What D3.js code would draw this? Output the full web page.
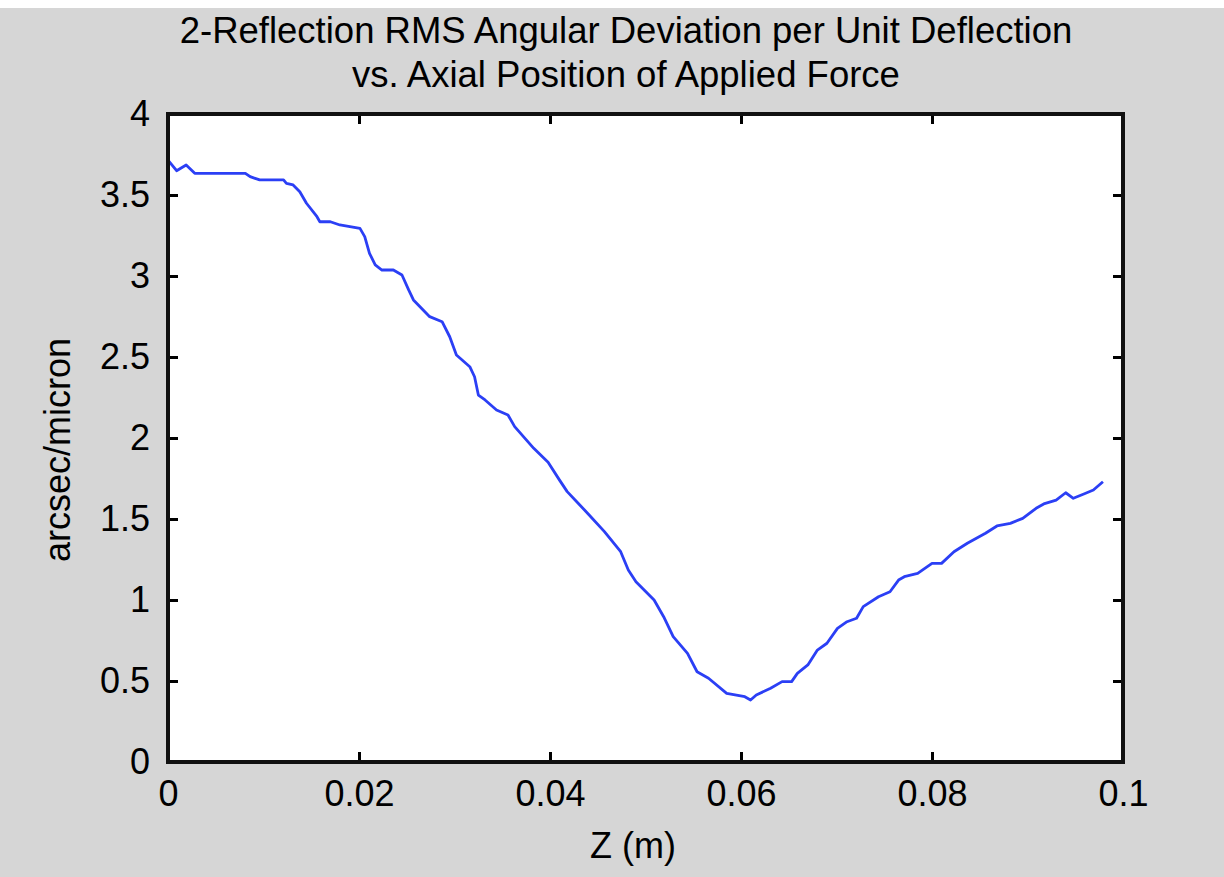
<!DOCTYPE html>
<html>
<head>
<meta charset="utf-8">
<script src="https://cdn.jsdelivr.net/npm/d3@7"></script>
<style>
  body { margin: 0; background: #d6d6d6; }
  svg { display: block; }
  text { font-family: "Liberation Sans", Arial, sans-serif; fill: #000; }
</style>
</head>
<body>
<svg width="1224" height="877"></svg>
<script>
// values
var zVals = [0, 0.0009, 0.0019, 0.0028, 0.0081, 0.0086, 0.0096, 0.0121, 0.0124, 0.0131,
  0.0138, 0.0145, 0.0156, 0.0159, 0.0170, 0.0180, 0.0201, 0.0206, 0.0211, 0.0217,
  0.0224, 0.0236, 0.0245, 0.0252, 0.0257, 0.0274, 0.0287, 0.0295, 0.0302, 0.0316,
  0.0321, 0.0325, 0.0332, 0.0344, 0.0356, 0.0363, 0.0383, 0.0398, 0.0410, 0.0418,
  0.0428, 0.0441, 0.0457, 0.0474, 0.0482, 0.0490, 0.0509, 0.0519, 0.0529, 0.0544,
  0.0554, 0.0566, 0.0585, 0.0604, 0.0610, 0.0616, 0.0631, 0.0643, 0.0653, 0.0659,
  0.0670, 0.0680, 0.0690, 0.0701, 0.0711, 0.0721, 0.0728, 0.0744, 0.0756, 0.0765,
  0.0771, 0.0785, 0.0800, 0.0810, 0.0823, 0.0837, 0.0856, 0.0868, 0.0882, 0.0895,
  0.0909, 0.0917, 0.0930, 0.0940, 0.0948, 0.0959, 0.0969, 0.0979];

var devVals = [3.716, 3.65, 3.685, 3.634, 3.634, 3.613, 3.593, 3.593, 3.572, 3.562,
  3.52, 3.449, 3.366, 3.335, 3.335, 3.315, 3.294, 3.243, 3.14, 3.068,
  3.037, 3.037, 3.006, 2.914, 2.852, 2.749, 2.718, 2.625, 2.512, 2.44,
  2.378, 2.265, 2.235, 2.173, 2.142, 2.07, 1.936, 1.85, 1.74, 1.669,
  1.607, 1.525, 1.422, 1.298, 1.185, 1.113, 1.0, 0.897, 0.774, 0.671,
  0.557, 0.517, 0.424, 0.403, 0.383, 0.414, 0.455, 0.496, 0.496, 0.547,
  0.599, 0.691, 0.733, 0.825, 0.866, 0.887, 0.959, 1.02, 1.051, 1.123,
  1.144, 1.164, 1.226, 1.226, 1.298, 1.35, 1.412, 1.457, 1.473, 1.504,
  1.566, 1.593, 1.617, 1.662, 1.628, 1.654, 1.679, 1.73];

var xTicks = [0, 0.02, 0.04, 0.06, 0.08, 0.1];
var xTickLabels = ["0", "0.02", "0.04", "0.06", "0.08", "0.1"];
var yTicks = [0, 0.5, 1, 1.5, 2, 2.5, 3, 3.5, 4];
var yTickLabels = ["0", "0.5", "1", "1.5", "2", "2.5", "3", "3.5", "4"];

var titleLines = ["2-Reflection RMS Angular Deviation per Unit Deflection",
                  "vs. Axial Position of Applied Force"];

var svg = d3.select("svg"),
    margin = {top: 114, right: 101, bottom: 115, left: 168},
    width = +svg.attr("width") - margin.left - margin.right,
    height = +svg.attr("height") - margin.top - margin.bottom;

// thin white strip along the top edge
svg.append("rect").attr("width", 1224).attr("height", 8).attr("fill", "#fff");

var g = svg.append("g").attr("transform", "translate(" + margin.left + "," + margin.top + ")");

var x = d3.scaleLinear().domain([0, 0.1]).range([0, width]);
var y = d3.scaleLinear().domain([0, 4]).range([height, 0]);

g.append("rect")
    .attr("width", width)
    .attr("height", height)
    .attr("fill", "#fff");

var data = zVals.map(function(d, i) { return {z: d, v: devVals[i]}; });

var line = d3.line()
    .x(function(d) { return x(d.z); })
    .y(function(d) { return y(d.v); });

g.append("path")
    .datum(data)
    .attr("fill", "none")
    .attr("stroke", "#2b3ff5")
    .attr("stroke-width", 2.8)
    .attr("stroke-linejoin", "round")
    .attr("d", line);

// axes: ticks point inward on all four sides, matlab style
function styleAxis(sel) {
  sel.select(".domain").remove();
  sel.selectAll(".tick line").attr("stroke", "#000").attr("stroke-width", 3);
  sel.selectAll(".tick text").attr("font-size", 36).attr("fill", "#000")
     .attr("font-family", "'Liberation Sans', Arial, sans-serif");
}

var fmtX = function(d, i) { return xTickLabels[i]; };
var fmtY = function(d, i) { return yTickLabels[i]; };

g.append("g")
    .attr("transform", "translate(0," + height + ")")
    .call(d3.axisBottom(x).tickValues(xTicks).tickFormat(fmtX).tickSizeInner(-10).tickPadding(18))
    .call(styleAxis);

g.append("g")
    .call(d3.axisTop(x).tickValues(xTicks).tickFormat("").tickSizeInner(-10))
    .call(styleAxis);

g.append("g")
    .call(d3.axisLeft(y).tickValues(yTicks).tickFormat(fmtY).tickSizeInner(-10).tickPadding(18))
    .call(styleAxis);

g.append("g")
    .attr("transform", "translate(" + width + ",0)")
    .call(d3.axisRight(y).tickValues(yTicks).tickFormat("").tickSizeInner(-10))
    .call(styleAxis);

// plot frame
g.append("rect")
    .attr("width", width)
    .attr("height", height)
    .attr("fill", "none")
    .attr("stroke", "#111")
    .attr("stroke-width", 4);

// title
svg.append("g")
    .selectAll("text")
    .data(titleLines)
    .enter().append("text")
      .attr("x", 626)
      .attr("y", function(d, i) { return 43 + i * 44; })
      .attr("text-anchor", "middle")
      .attr("font-size", 36.5)
      .text(function(d) { return d; });

svg.append("text")
    .attr("x", 633)
    .attr("y", 858)
    .attr("text-anchor", "middle")
    .attr("font-size", 36)
    .text("Z (m)");

svg.append("text")
    .attr("transform", "translate(70,450) rotate(-90)")
    .attr("text-anchor", "middle")
    .attr("font-size", 36)
    .text("arcsec/micron");
</script>
</body>
</html>
